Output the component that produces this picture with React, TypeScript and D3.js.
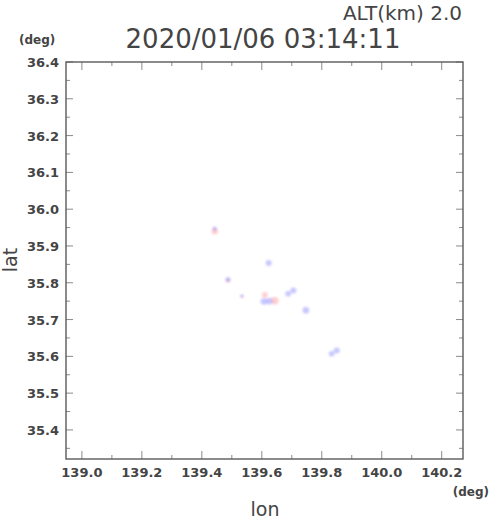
import React from "react";
import * as d3 from "d3";

// lon / lat of the blue and pink echoes
const blueLon = [139.443, 139.623, 139.487, 139.533, 139.607, 139.625, 139.688, 139.705, 139.747, 139.833, 139.85];
const blueLat = [35.947, 35.854, 35.809, 35.764, 35.749, 35.75, 35.77, 35.779, 35.725, 35.607, 35.616];
const blueSize = [2.2, 3, 2.5, 1.8, 3.3, 3.3, 2.8, 3, 3.3, 2.8, 3];

const pinkLon = [139.443, 139.488, 139.536, 139.61, 139.643];
const pinkLat = [35.94, 35.806, 35.762, 35.767, 35.751];
const pinkSize = [3.2, 2.3, 1.4, 2.8, 3.8];

const lonTicks = [139.0, 139.2, 139.4, 139.6, 139.8, 140.0, 140.2];
const latTicks = [35.4, 35.5, 35.6, 35.7, 35.8, 35.9, 36.0, 36.1, 36.2, 36.3, 36.4];

const title = "2020/01/06 03:14:11";
const altLabel = "ALT(km)  2.0";

const W = 490;
const H = 521;
const box = { left: 66, right: 463, top: 62, bottom: 459 };

const App = () => {
  const x = d3.scaleLinear().domain([138.947, 140.271]).range([box.left, box.right]);
  const y = d3.scaleLinear().domain([35.321, 36.4]).range([box.bottom, box.top]);

  const lonMinor = d3.range(139.1, 140.27, 0.2);
  const latMinor = d3.range(35.35, 36.4, 0.1);

  const tickColor = "#8a8a8a";
  const labelFont = "'DejaVu Sans', sans-serif";

  return (
    <svg width={W} height={H} style={{ position: "absolute", left: 0, top: 0 }}>
      <defs>
        <filter id="soft" x="-50%" y="-50%" width="200%" height="200%">
          <feGaussianBlur stdDeviation="0.9" />
        </filter>
      </defs>
      <rect width={W} height={H} fill="#fff" />

      {/* ticks on all four sides */}
      <g stroke={tickColor} strokeWidth={1}>
        {lonTicks.map((t) => (
          <g key={"xt" + t}>
            <line x1={x(t)} x2={x(t)} y1={box.bottom} y2={box.bottom - 8} />
            <line x1={x(t)} x2={x(t)} y1={box.top} y2={box.top + 8} />
          </g>
        ))}
        {lonMinor.map((t) => (
          <g key={"xm" + t}>
            <line x1={x(t)} x2={x(t)} y1={box.bottom} y2={box.bottom - 4} />
            <line x1={x(t)} x2={x(t)} y1={box.top} y2={box.top + 4} />
          </g>
        ))}
        {latTicks.map((t) => (
          <g key={"yt" + t}>
            <line x1={box.left} x2={box.left + 7} y1={y(t)} y2={y(t)} />
            <line x1={box.right} x2={box.right - 7} y1={y(t)} y2={y(t)} />
          </g>
        ))}
        {latMinor.map((t) => (
          <g key={"ym" + t}>
            <line x1={box.left} x2={box.left + 4} y1={y(t)} y2={y(t)} />
            <line x1={box.right} x2={box.right - 4} y1={y(t)} y2={y(t)} />
          </g>
        ))}
      </g>

      <rect
        x={box.left}
        y={box.top}
        width={box.right - box.left}
        height={box.bottom - box.top}
        fill="none"
        stroke="#5a5a5a"
        strokeWidth={1.4}
      />

      {/* echoes */}
      <g filter="url(#soft)">
        {pinkLon.map((d, i) => (
          <circle key={"p" + i} cx={x(d)} cy={y(pinkLat[i])} r={pinkSize[i]} fill="rgb(255,165,165)" fillOpacity={0.55} />
        ))}
        {blueLon.map((d, i) => (
          <circle key={"b" + i} cx={x(d)} cy={y(blueLat[i])} r={blueSize[i]} fill="rgb(145,145,255)" fillOpacity={0.5} />
        ))}
      </g>

      {/* tick labels */}
      <g fontFamily={labelFont} fontWeight="bold" fontSize={13} fill="#444">
        {lonTicks.map((t) => (
          <text key={"xl" + t} x={x(t)} y={477} textAnchor="middle">
            {t.toFixed(1)}
          </text>
        ))}
        {latTicks.map((t) => (
          <text key={"yl" + t} x={59} y={y(t) + 5} textAnchor="end">
            {t.toFixed(1)}
          </text>
        ))}
      </g>

      <g fontFamily={labelFont} fontWeight="bold" fontSize={12} fill="#444">
        <text x={19} y={44}>(deg)</text>
        <text x={489} y={496} textAnchor="end">(deg)</text>
      </g>

      <g fontFamily={labelFont} fill="#444">
        <text x={462} y={20} textAnchor="end" fontSize={20}>
          {altLabel}
        </text>
        <text x={263} y={48} textAnchor="middle" fontSize={26}>
          {title}
        </text>
        <text x={265} y={516} textAnchor="middle" fontSize={19}>
          lon
        </text>
        <text transform="translate(17,260) rotate(-90)" textAnchor="middle" fontSize={19}>
          lat
        </text>
      </g>
    </svg>
  );
};

export default App;
